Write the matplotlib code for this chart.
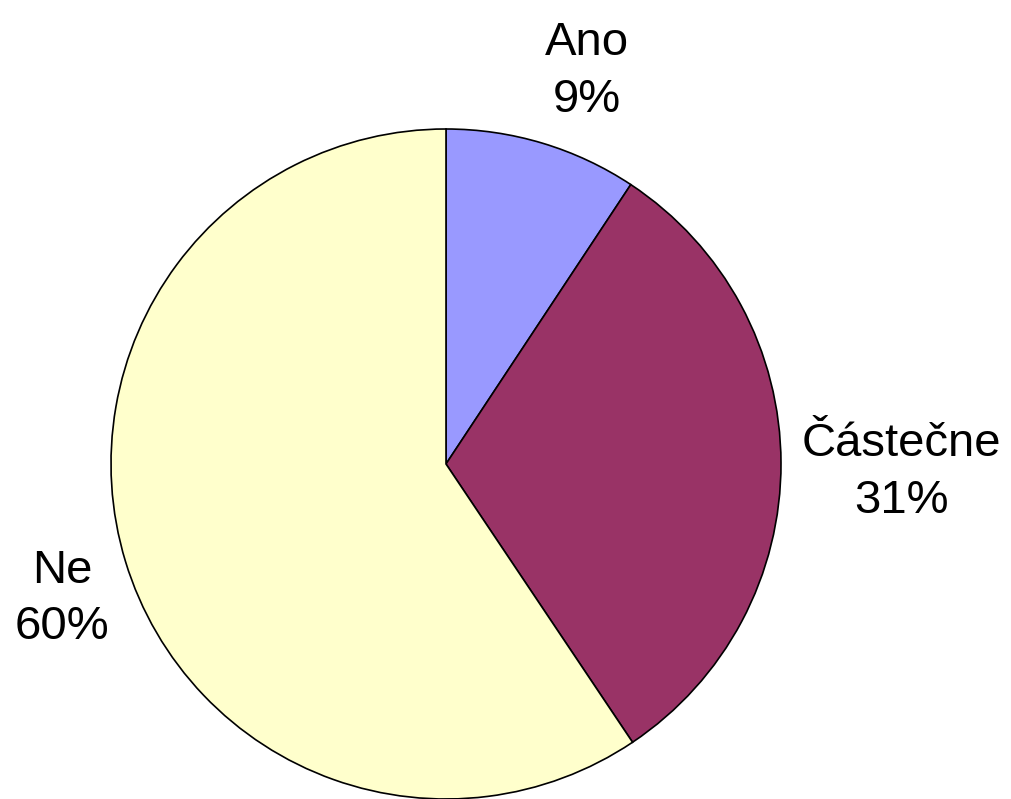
import numpy as np
import matplotlib
matplotlib.use("Agg")
import matplotlib.pyplot as plt

categories = ["Ano", "Částečne", "Ne"]
values = [9.3, 31.3, 59.4]
pct_labels = ["9%", "31%", "60%"]
colors = ["#9999FF", "#993366", "#FFFFCC"]

W, H = 1012, 799
fig = plt.figure(figsize=(W / 100, H / 100), dpi=100)
ax = fig.add_axes([0, 0, 1, 1])

cx, cy, R = 446, H - 464, 335
wedges, _ = ax.pie(values, colors=colors, startangle=90, counterclock=False,
                   center=(cx, cy), radius=R, frame=True,
                   wedgeprops=dict(edgecolor="black", linewidth=1.2))
ax.set_xlim(0, W)
ax.set_ylim(0, H)
ax.set_aspect("equal")
ax.axis("off")

label_dist = [1.235, 1.27, 1.21]
label_shift = [(22, -4), (30, -10), (4, -17)]
for w, cat, pct, d, (sx, sy) in zip(wedges, categories, pct_labels, label_dist, label_shift):
    ang = np.deg2rad((w.theta1 + w.theta2) / 2)
    x = cx + d * R * np.cos(ang) + sx
    y = cy + d * R * np.sin(ang) + sy
    ax.text(x, y, f"{cat}\n{pct}", ha="center", va="center",
            fontsize=34, family="Liberation Sans", linespacing=1.38)

fig.savefig("out.png", dpi=100)
